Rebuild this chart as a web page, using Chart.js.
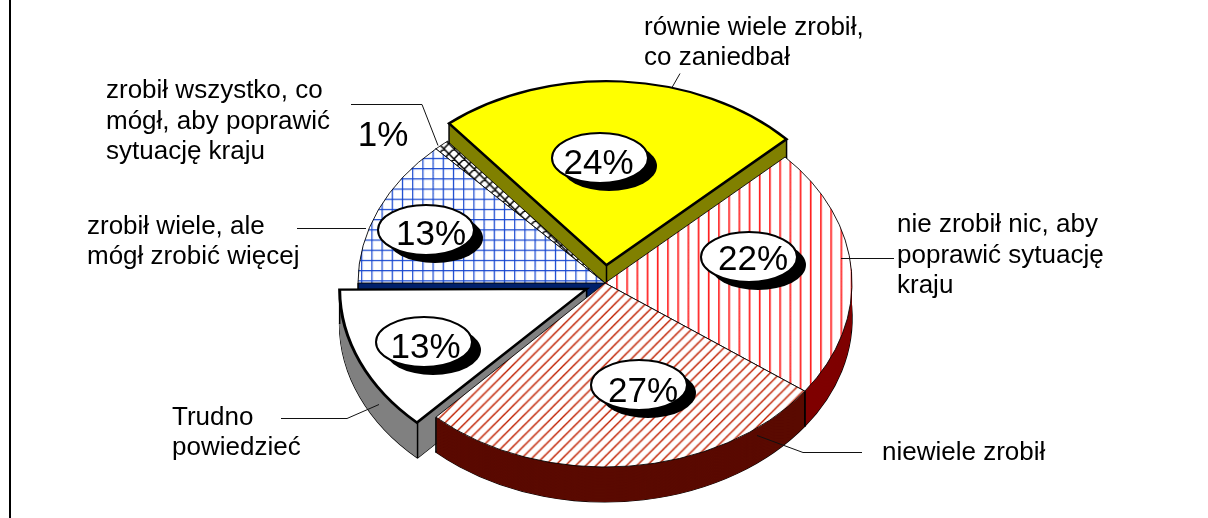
<!DOCTYPE html>
<html>
<head>
<meta charset="utf-8">
<style>
html, body { margin: 0; padding: 0; background: #fff; }
canvas { display: block; }
</style>
<script src="https://cdnjs.cloudflare.com/ajax/libs/Chart.js/4.4.1/chart.umd.js"></script>
</head>
<body>
<canvas id="myChart" width="1208" height="518"></canvas>
<script>
var categories = ['nie zrobił nic, aby poprawić sytuację kraju', 'niewiele zrobił', 'Trudno powiedzieć',
    'zrobił wiele, ale mógł zrobić więcej', 'zrobił wszystko, co mógł, aby poprawić sytuację kraju', 'równie wiele zrobił, co zaniedbał'];
var shares = [22, 27, 13, 13, 1, 24];

var FONT = '"Liberation Sans", Arial, sans-serif';
var squash = 0.745;
var depth = 35;
var radius = 247;
var drawOrder = [5, 4, 3, 2, 0, 1];
var explode = [0, 0, 80, 0, 0, 96];
var sideColors = ['#7f0000', '#5a0a00', '#808080', '#00206b', '#222222', '#808000'];
var edgeWidths = [1, 1, 3, 1, 1, 3];

// ellipse centres and text anchors, by category index. The 1% label has no ellipse
var badges = [[749, 257], [639, 385], [424, 342], [426, 230], null, [600, 158]];
var badgeText = [[753, 270], [643, 402], [425.5, 358], [431, 245], [383, 146], [598.5, 174]];

var captions = [
    ['równie wiele zrobił,', 644, 35], ['co zaniedbał', 644, 65],
    ['zrobił wszystko, co', 106, 98], ['mógł, aby poprawić', 106, 129], ['sytuację kraju', 106, 159],
    ['zrobił wiele, ale', 87, 234], ['mógł zrobić więcej', 87, 264],
    ['nie zrobił nic, aby', 897, 232], ['poprawić sytuację', 897, 263], ['kraju', 897, 293],
    ['Trudno', 172, 425], ['powiedzieć', 172, 455],
    ['niewiele zrobił', 882, 460]
];
var leaders = [
    [[672, 87], [680, 73]],
    [[351, 104], [422, 104], [438, 145]],
    [[297, 228], [366, 228]],
    [[841, 258], [894, 258]],
    [[757, 435], [803, 452], [862, 452]],
    [[281, 418], [347, 418], [379, 404]]
];

function tile(draw) {
    var c = document.createElement('canvas');
    c.width = 10;
    c.height = 10;
    var g = c.getContext('2d');
    g.fillStyle = '#fff';
    g.fillRect(0, 0, 10, 10);
    draw(g);
    var p = g.createPattern(c, 'repeat');
    // the squash below also hits the pattern, so undo it here
    p.setTransform(new DOMMatrix().scale(1.02, 1.02 / squash));
    return p;
}

var fills = [
    tile(function (g) { g.fillStyle = '#ff1c1c'; g.fillRect(4, 0, 1.6, 10); }),
    tile(function (g) {
        g.strokeStyle = '#c02000';
        g.lineWidth = 1.4;
        g.beginPath();
        g.moveTo(-2, 2); g.lineTo(2, -2);
        g.moveTo(-2, 12); g.lineTo(12, -2);
        g.moveTo(8, 12); g.lineTo(12, 8);
        g.stroke();
    }),
    '#ffffff',
    tile(function (g) { g.fillStyle = '#1848d0'; g.fillRect(4, 0, 1.2, 10); g.fillRect(0, 4, 10, 1.2); }),
    tile(function (g) {
        g.strokeStyle = '#000';
        g.lineWidth = 1.5;
        g.beginPath();
        g.moveTo(-2, 2); g.lineTo(2, -2);
        g.moveTo(-2, 12); g.lineTo(12, -2);
        g.moveTo(8, 12); g.lineTo(12, 8);
        g.moveTo(-2, 8); g.lineTo(2, 12);
        g.moveTo(-2, -2); g.lineTo(12, 12);
        g.moveTo(8, -2); g.lineTo(12, 2);
        g.stroke();
    }),
    '#ffff00'
];

function shift(arc) {
    var mid = (arc.startAngle + arc.endAngle) / 2;
    var d = (arc.options.offset || 0) / 4;
    return { x: arc.x + Math.cos(mid) * d, y: arc.y + Math.sin(mid) * d };
}

function drawSide(ctx, arc, color) {
    var o = shift(arc);
    var drop = depth / squash;
    function sector(dy) {
        ctx.beginPath();
        ctx.moveTo(o.x, o.y + dy);
        ctx.arc(o.x, o.y + dy, radius, arc.startAngle, arc.endAngle);
        ctx.closePath();
    }
    ctx.lineWidth = 1.5;
    ctx.strokeStyle = '#000';
    sector(drop);
    ctx.stroke();
    ctx.fillStyle = color;
    for (var k = drop; k > 0; k -= 1) {
        sector(k);
        ctx.fill();
    }
    // corner edges of the side wall
    ctx.beginPath();
    [null, arc.startAngle, arc.endAngle].forEach(function (a) {
        var px = a === null ? o.x : o.x + Math.cos(a) * radius;
        var py = a === null ? o.y : o.y + Math.sin(a) * radius;
        ctx.moveTo(px, py);
        ctx.lineTo(px, py + drop);
    });
    ctx.stroke();
}

var pie3d = {
    id: 'pie3d',
    afterDatasetsUpdate: function (chart) {
        // Arc.draw widens narrow offset slices, take that back out
        chart.getDatasetMeta(0).data.forEach(function (arc) {
            var circ = arc.endAngle - arc.startAngle;
            var fix = 1 - Math.sin(Math.min(Math.PI, circ));
            arc.outerRadius = radius - (arc.options.offset || 0) / 4 * fix;
        });
    },
    beforeDatasetDraw: function (chart) {
        var ctx = chart.ctx;
        var meta = chart.getDatasetMeta(0);
        var cy = meta.data[0].y;
        ctx.save();
        ctx.translate(0, cy);
        ctx.scale(1, squash);
        ctx.translate(0, -cy);
        drawOrder.forEach(function (i) {
            drawSide(ctx, meta.data[i], sideColors[i]);
            meta.data[i].draw(ctx);
        });
        ctx.restore();
        return false;
    },
    afterDraw: function (chart) {
        var ctx = chart.ctx;
        ctx.save();
        ctx.fillStyle = '#000';
        ctx.fillRect(9, 0, 2, 518);

        ctx.strokeStyle = '#111';
        ctx.lineWidth = 1;
        leaders.forEach(function (line) {
            ctx.beginPath();
            line.forEach(function (p, i) {
                if (i == 0) ctx.moveTo(p[0], p[1] + 0.5);
                else ctx.lineTo(p[0], p[1] + 0.5);
            });
            ctx.stroke();
        });

        ctx.fillStyle = '#000';
        ctx.textBaseline = 'alphabetic';
        ctx.textAlign = 'left';
        ctx.font = '26px ' + FONT;
        captions.forEach(function (c) { ctx.fillText(c[0], c[1], c[2]); });

        ctx.font = '35px ' + FONT;
        ctx.textAlign = 'center';
        shares.forEach(function (v, i) {
            var b = badges[i];
            if (b) {
                ctx.fillStyle = '#000';
                ctx.beginPath();
                ctx.ellipse(b[0] + 9, b[1] + 8, 48, 25, 0, 0, Math.PI * 2);
                ctx.fill();
                ctx.fillStyle = '#fff';
                ctx.strokeStyle = '#000';
                ctx.lineWidth = 2;
                ctx.beginPath();
                ctx.ellipse(b[0], b[1], 48, 25, 0, 0, Math.PI * 2);
                ctx.fill();
                ctx.stroke();
            }
            ctx.fillStyle = '#000';
            ctx.fillText(v + '%', badgeText[i][0], badgeText[i][1]);
        });
        ctx.restore();
    }
};

var myChart = new Chart(document.getElementById('myChart'), {
    type: 'pie',
    data: {
        labels: categories,
        datasets: [{
            data: shares,
            backgroundColor: fills,
            borderColor: '#000',
            borderWidth: edgeWidths,
            borderJoinStyle: 'miter',
            offset: explode,
            radius: radius,
            rotation: 46.8,
            clip: false
        }]
    },
    options: {
        responsive: false,
        animation: false,
        events: [],
        layout: { padding: { left: 2, top: 48 } },
        plugins: { legend: { display: false }, tooltip: { enabled: false } }
    },
    plugins: [pie3d]
});
</script>
</body>
</html>
